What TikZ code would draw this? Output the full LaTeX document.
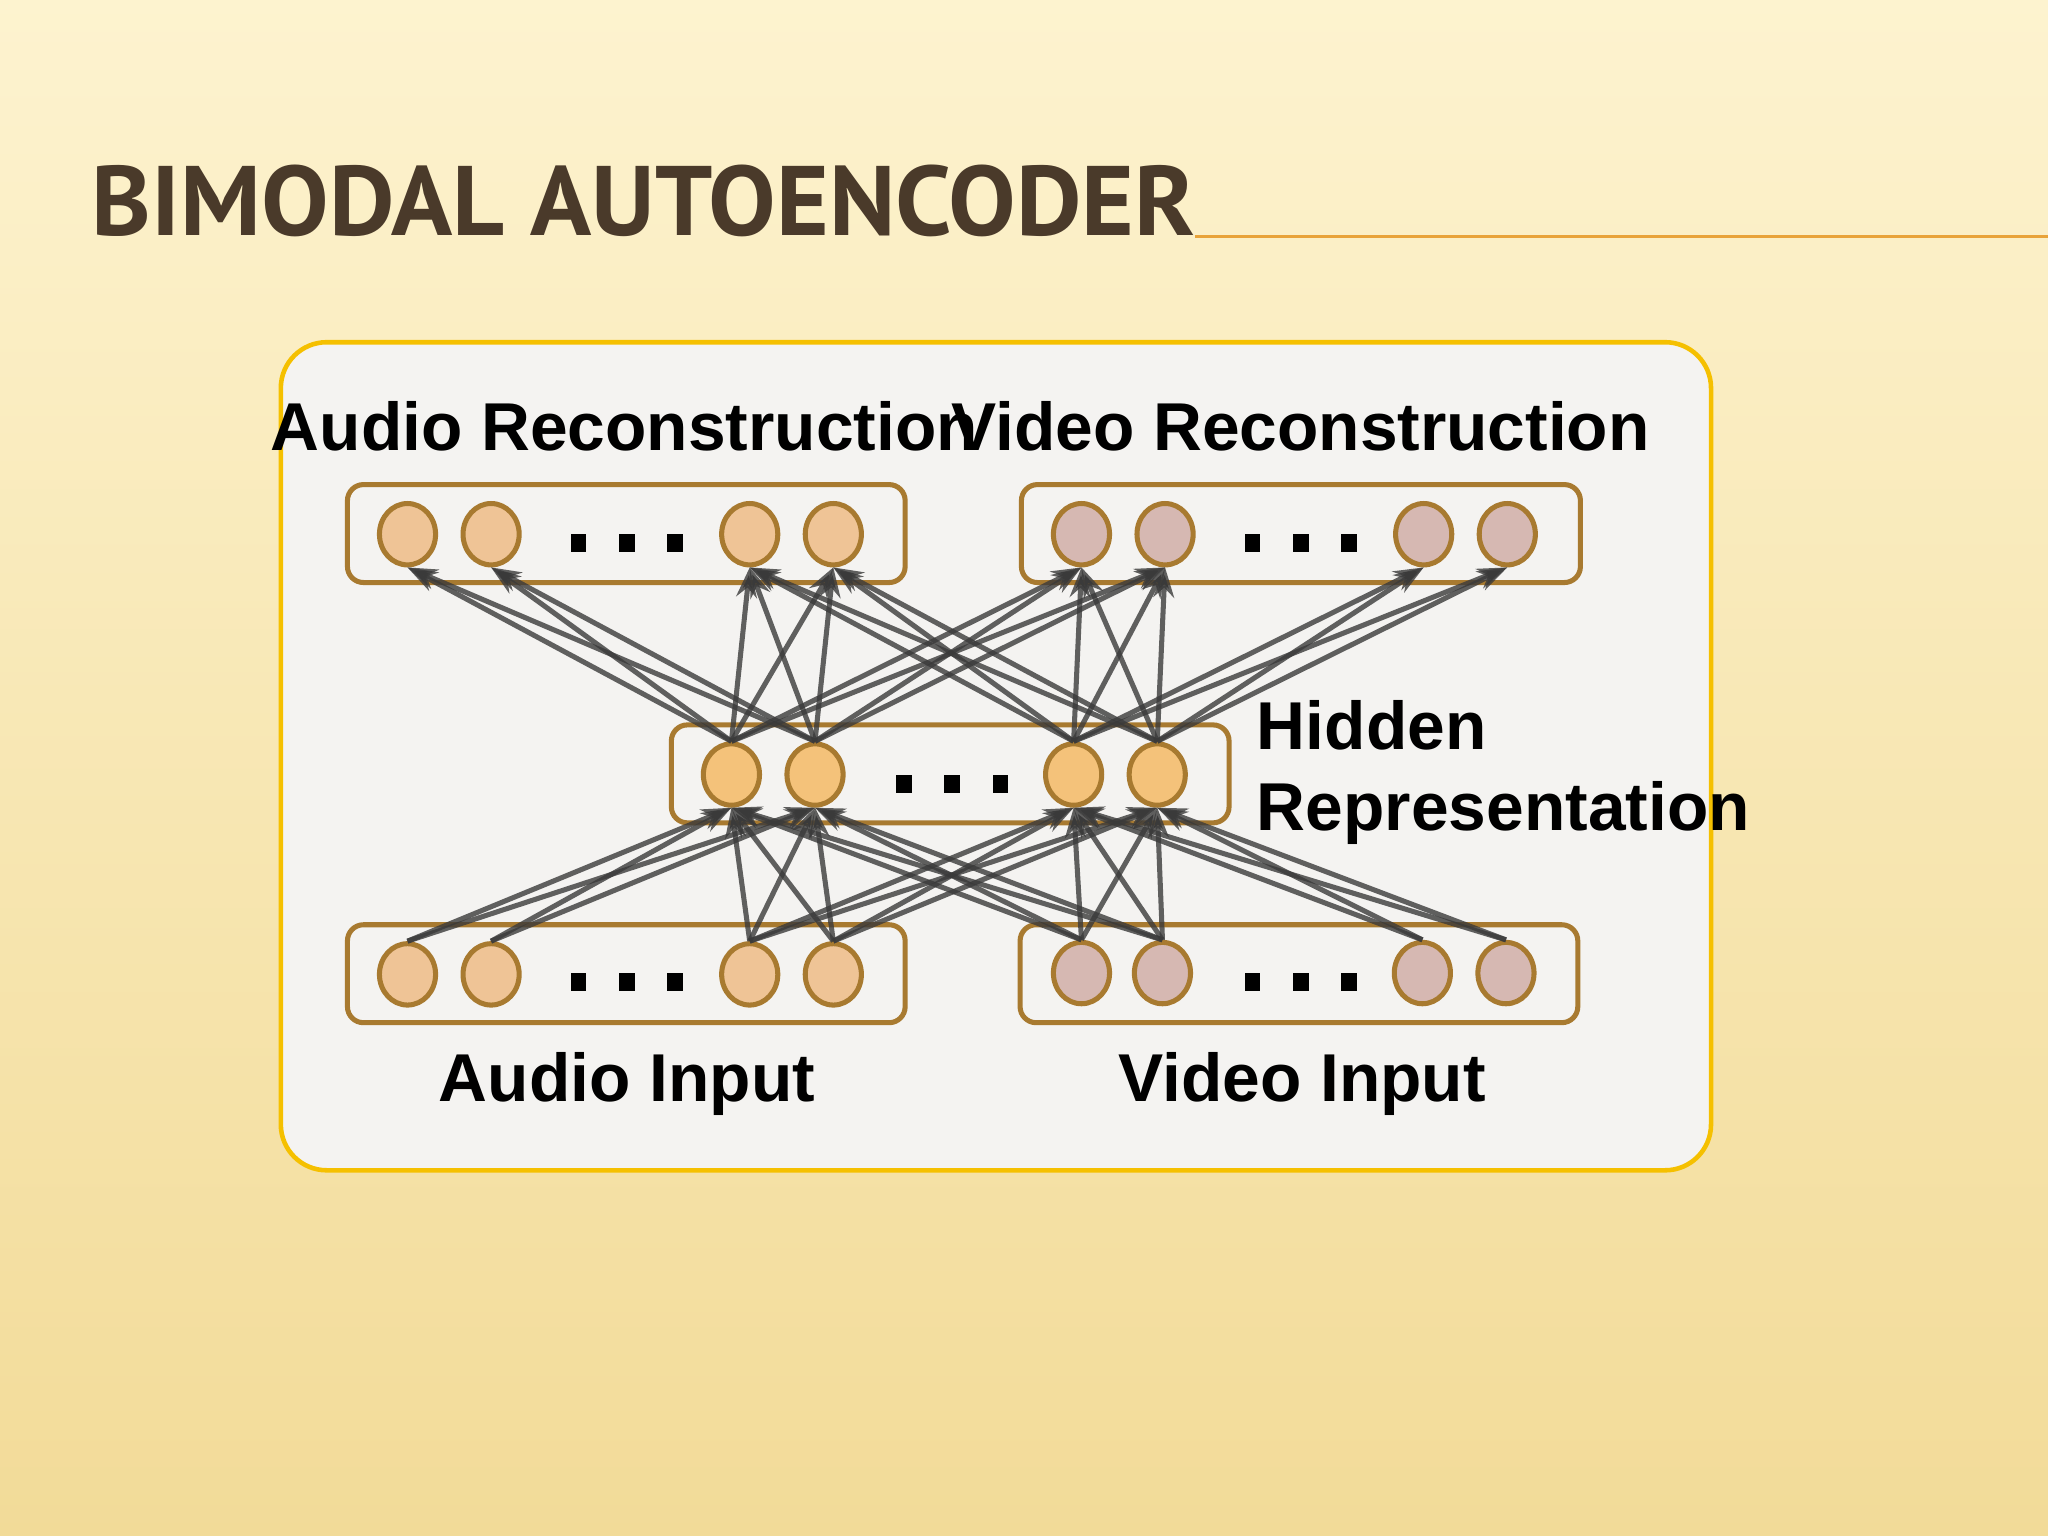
\documentclass[tikz,border=0pt]{standalone}
\usepackage{fontspec}
\setmainfont{Liberation Sans}
\newfontfamily\titlefont{PT Sans}
\usetikzlibrary{arrows.meta,shapes.geometric}
\definecolor{bgtop}{HTML}{FDF3CF}
\definecolor{bgbot}{HTML}{F2DB98}
\definecolor{titlec}{HTML}{4A3A2A}
\definecolor{linec}{HTML}{E8A33A}
\definecolor{panelb}{HTML}{F5C000}
\definecolor{panelf}{HTML}{F4F3F1}
\definecolor{boxc}{HTML}{A87A30}
\definecolor{audf}{HTML}{EFC496}
\definecolor{vidf}{HTML}{D6B8B2}
\definecolor{hidf}{HTML}{F4C27A}
\definecolor{arrc}{HTML}{3A3A3A}
\begin{document}
\begin{tikzpicture}[x=0.02cm,y=-0.02cm,
  lay/.style={draw=boxc,line width=2.2pt,rounded corners=7pt},
  unit/.style={ellipse,draw=boxc,line width=2.2pt,minimum width=0.86cm,minimum height=0.94cm,inner sep=0pt},
  aud/.style={unit,fill=audf},
  vid/.style={unit,fill=vidf},
  hid/.style={unit,fill=hidf},
  lbl/.style={font=\bfseries\fontsize{29.5}{34}\selectfont,inner sep=0pt},
  con/.style={draw=arrc,draw opacity=0.8,line width=2.2pt,-{Stealth[length=13pt,width=9pt]}}]
\useasboundingbox (0,0) rectangle (1568,1176);
\shade[top color=bgtop,bottom color=bgbot] (0,0) rectangle (1568,1176);
\node[anchor=base west,inner sep=0pt,text=titlec] (title) at (70,180) {\resizebox{16.9cm}{1.08cm}{\titlefont\bfseries BIMODAL AUTOENCODER}};
\draw[linec,line width=1pt] (915,181) -- (1568,181);
\draw[draw=panelb,fill=panelf,line width=2pt,rounded corners=20pt] (215,262) rectangle (1310,896);
\draw[lay] (266,371) rectangle (693,446);
\draw[lay] (782,371) rectangle (1210,446);
\draw[lay] (514,555) rectangle (941,630);
\draw[lay] (266,708) rectangle (693,783);
\draw[lay] (781,708) rectangle (1208,783);
\foreach \x [count=\i] in {312,376,574,638} \node[aud] (ar\i) at (\x,409) {};
\foreach \x [count=\i] in {828,892,1090,1154} \node[vid] (vr\i) at (\x,409) {};
\foreach \x [count=\i] in {560,624,822,886} \node[hid] (h\i) at (\x,593) {};
\foreach \x [count=\i] in {312,376,574,638} \node[aud] (ai\i) at (\x,746) {};
\foreach \x [count=\i] in {828,890,1089,1153} \node[vid] (vi\i) at (\x,745) {};
\foreach \p/\q in {480/416,996/416,729/600,480/752,996/752}
  \foreach \dx in {-37,0,37} \fill (\p+\dx-6,\q-7) rectangle (\p+\dx+6,\q+7);
\foreach \i in {1,2} \foreach \h in {1,2} {
  \draw[con] (ai\i.north) -- (h\h.south);
  \draw[con] (h\h.north) -- (ar\i.south);}
\foreach \i in {3,4} \foreach \h in {3,4} {
  \draw[con] (vi\i.north) -- (h\h.south);
  \draw[con] (h\h.north) -- (vr\i.south);}
\foreach \i in {3,4} \foreach \h in {1,...,4} {
  \draw[con] (ai\i.north) -- (h\h.south);
  \draw[con] (h\h.north) -- (ar\i.south);}
\foreach \i in {1,2} \foreach \h in {1,...,4} {
  \draw[con] (vi\i.north) -- (h\h.south);
  \draw[con] (h\h.north) -- (vr\i.south);}
\node[lbl,anchor=base west] (l1) at (207,345) {Audio Reconstruction};
\node[lbl,anchor=base west] (l2) at (728,345) {Video Reconstruction};
\node[lbl,anchor=base west] (l3) at (962,574) {Hidden};
\node[lbl,anchor=base west] (l4) at (962,636) {Representation};
\node[lbl,anchor=base] (l5) at (480,843) {Audio Input};
\node[lbl,anchor=base] (l6) at (997,843) {Video Input};
\end{tikzpicture}
\end{document}
